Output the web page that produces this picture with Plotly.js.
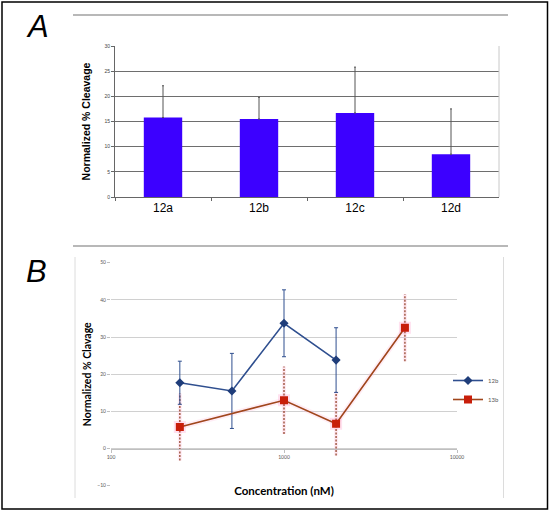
<!DOCTYPE html>
<html>
<head>
<meta charset="utf-8">
<script src="https://cdn.plot.ly/plotly-3.0.1.min.js"></script>
<style>html,body{margin:0;padding:0;background:#fff;}#chart{width:550px;height:512px;}</style>
</head>
<body>
<div id="chart"></div>
<script>
// Panel A data
const categoriesA = ['12a', '12b', '12c', '12d'];
const valuesA = [15.8, 15.5, 16.7, 8.5];
const errorsA = [6.3, 4.3, 9.1, 9.0];

// Panel B data
const conc12b = [250, 500, 1000, 2000];
const values12b = [17.7, 15.5, 33.7, 23.8];
const errors12b = [5.8, 10.1, 9.0, 8.7];

const conc13b = [250, 1000, 2000, 5000];
const values13b = [5.8, 13.0, 6.7, 32.5];
const errors13b = [9.0, 9.1, 8.6, 9.0];

const ticksB = [100, 1000, 10000];
const tickTextB = ['100', '1000', '10000'];

const W = 550, H = 512;
const px = x => x / W;
const py = y => 1 - y / H;

// dashed error bars for 13b built from the data
const errX = [], errY = [];
conc13b.forEach((c, i) => {
  errX.push(c, c, null);
  errY.push(values13b[i] - errors13b[i], values13b[i] + errors13b[i], null);
});

const traces = [
  {
    type: 'bar', x: categoriesA, y: valuesA, xaxis: 'x', yaxis: 'y',
    marker: {color: '#3c00ff', line: {width: 0}}, width: 0.4,
    error_y: {type: 'data', symmetric: false, array: errorsA, arrayminus: errorsA.map(() => 0),
              color: '#555555', thickness: 1, width: 1},
    showlegend: false, hoverinfo: 'skip'
  },
  // faint glow under 13b error bars
  {
    type: 'scatter', mode: 'lines', x: errX, y: errY, xaxis: 'x2', yaxis: 'y2',
    line: {color: 'rgba(255,190,220,0.3)', width: 4}, showlegend: false, hoverinfo: 'skip'
  },
  // faint glow under 13b line
  {
    type: 'scatter', mode: 'lines+markers', x: conc13b, y: values13b, xaxis: 'x2', yaxis: 'y2',
    line: {color: 'rgba(255,190,220,0.28)', width: 5},
    marker: {symbol: 'square', size: 12, color: 'rgba(255,170,210,0.35)'},
    showlegend: false, hoverinfo: 'skip'
  },
  {
    type: 'scatter', mode: 'lines', x: errX, y: errY, xaxis: 'x2', yaxis: 'y2',
    line: {color: '#9c5038', width: 1.4, dash: '2px,1.5px'}, showlegend: false, hoverinfo: 'skip'
  },
  {
    type: 'scatter', mode: 'lines+markers', name: '12b', x: conc12b, y: values12b,
    xaxis: 'x2', yaxis: 'y2',
    line: {color: '#2f4f8f', width: 1.6},
    marker: {symbol: 'diamond', size: 7, color: '#1f3d7a'},
    error_y: {type: 'data', array: errors12b, color: '#2f4f8f', thickness: 1, width: 2}
  },
  {
    type: 'scatter', mode: 'lines+markers', name: '13b', x: conc13b, y: values13b,
    xaxis: 'x2', yaxis: 'y2',
    line: {color: '#a0461c', width: 1.6},
    marker: {symbol: 'square', size: 8, color: '#c81e0a'}
  }
];

const layout = {
  width: W, height: H,
  margin: {l: 0, r: 0, t: 0, b: 0},
  paper_bgcolor: '#ffffff', plot_bgcolor: 'rgba(0,0,0,0)',
  font: {family: 'Liberation Sans, Arial, sans-serif', color: '#000'},
  showlegend: true,
  legend: {
    x: px(448), y: py(366), xanchor: 'left', yanchor: 'top',
    font: {size: 6, color: '#595959', family: 'Lato, sans-serif'},
    bgcolor: 'rgba(0,0,0,0)', tracegroupgap: 0, itemwidth: 30
  },
  xaxis: {
    domain: [px(115), px(499)], anchor: 'y', type: 'category',
    showline: true, linecolor: '#666666', linewidth: 1,
    ticks: 'outside', ticklen: 3, tickcolor: '#666666', tickson: 'boundaries',
    tickfont: {size: 12, color: '#000', family: 'Liberation Sans, Arial, sans-serif'},
    showgrid: false, fixedrange: true
  },
  yaxis: {
    domain: [py(197), py(46)], anchor: 'x', range: [0, 30], dtick: 5,
    showline: true, linecolor: '#666666', linewidth: 1,
    ticks: 'outside', ticklen: 3, tickcolor: '#666666',
    tickfont: {size: 5, color: '#444'},
    showgrid: true, gridcolor: '#6e6e6e', gridwidth: 1, zeroline: false,
    title: {text: 'Normalized % Cleavage', standoff: 11,
            font: {size: 10.5, color: '#000', family: 'Liberation Sans, Arial, sans-serif', weight: 'bold'}}
  },
  xaxis2: {
    domain: [px(111), px(457)], anchor: 'free', position: py(448.7),
    type: 'log', range: [2, 4], tickvals: ticksB, ticktext: tickTextB,
    showline: true, linecolor: '#bfbfbf', linewidth: 1,
    ticks: 'outside', ticklen: 3, tickcolor: '#bfbfbf',
    tickfont: {size: 5, color: '#595959', family: 'Lato, sans-serif'},
    showgrid: false, zeroline: false,
    title: {text: 'Concentration (nM)', standoff: 28,
            font: {size: 11.5, color: '#000', family: 'Lato, sans-serif', weight: 'bold'}}
  },
  yaxis2: {
    domain: [py(485.7), py(262.7)], anchor: 'x2', range: [-10, 50], dtick: 10,
    showline: false, ticks: 'outside', ticklen: 3, tickcolor: '#bfbfbf',
    tickfont: {size: 5, color: '#595959', family: 'Lato, sans-serif'},
    showgrid: true, gridcolor: '#d0d0d0', gridwidth: 1, zeroline: false,
    title: {text: 'Normalized % Clavage', standoff: 3,
            font: {size: 10.5, color: '#000', family: 'Lato, sans-serif', weight: 'bold'}}
  },
  shapes: [
    {type: 'rect', xref: 'paper', yref: 'paper', x0: px(2), x1: px(547.5), y0: py(509), y1: py(2),
     line: {color: '#000', width: 1.5}},
    {type: 'line', xref: 'paper', yref: 'paper', x0: px(73), x1: px(508), y0: py(15), y1: py(15),
     line: {color: '#a0a0a0', width: 1.5}},
    {type: 'line', xref: 'paper', yref: 'paper', x0: px(73), x1: px(508), y0: py(246), y1: py(246),
     line: {color: '#a0a0a0', width: 1.5}},
    {type: 'line', xref: 'paper', yref: 'paper', x0: px(499), x1: px(499), y0: py(197), y1: py(46),
     line: {color: '#c8c8c8', width: 1}},
    {type: 'line', xref: 'paper', yref: 'paper', x0: px(75), x1: px(75), y0: py(498), y1: py(257),
     line: {color: '#dcdcdc', width: 1}},
    {type: 'line', xref: 'paper', yref: 'paper', x0: px(503.5), x1: px(503.5), y0: py(498), y1: py(257),
     line: {color: '#dcdcdc', width: 1}}
  ],
  annotations: [
    {xref: 'paper', yref: 'paper', x: px(37), y: py(26), xanchor: 'center', yanchor: 'middle',
     text: 'A', showarrow: false,
     font: {size: 31, style: 'italic', family: 'Liberation Sans, Arial, sans-serif', color: '#000'}},
    {xref: 'paper', yref: 'paper', x: px(36), y: py(271), xanchor: 'center', yanchor: 'middle',
     text: 'B', showarrow: false,
     font: {size: 31, style: 'italic', family: 'Liberation Sans, Arial, sans-serif', color: '#000'}}
  ]
};

Plotly.newPlot('chart', traces, layout, {displayModeBar: false, staticPlot: true});
</script>
</body>
</html>
